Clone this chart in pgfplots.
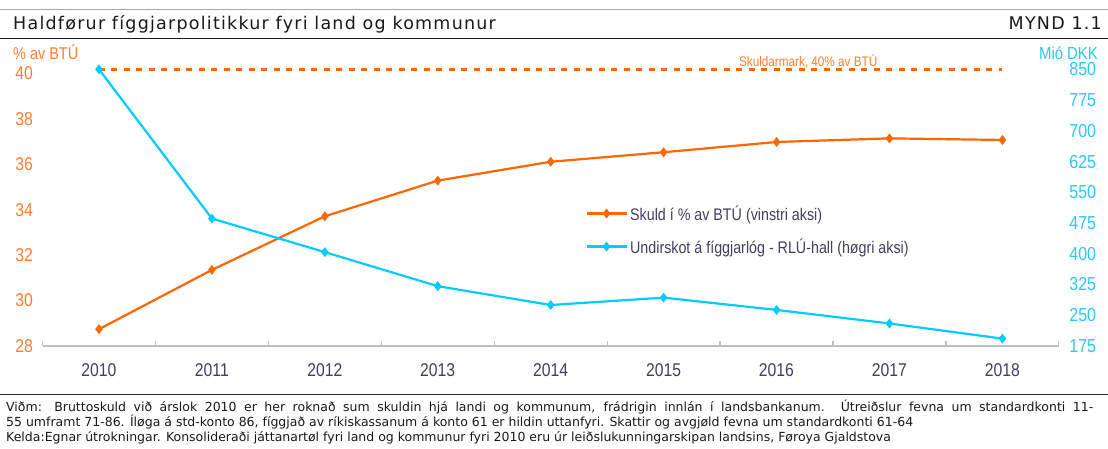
\documentclass[border=0pt]{standalone}
\usepackage{pgfplots}
\pgfplotsset{compat=1.18}
\usepackage{fontspec}
\setmainfont{Liberation Sans}
\newfontfamily\narrow[FakeStretch=0.85]{Liberation Sans}
\newfontfamily\verd{DejaVu Sans}
\newfontfamily\verdT[LetterSpace=7]{DejaVu Sans}
\definecolor{cOr}{RGB}{255,102,0}
\definecolor{cCy}{RGB}{0,204,255}
\definecolor{cOrT}{RGB}{255,125,45}
\definecolor{cCyT}{RGB}{40,200,255}
\definecolor{cTx}{RGB}{64,64,92}
\definecolor{cAx}{RGB}{191,191,191}
\begin{document}
\begin{tikzpicture}
\path[use as bounding box] (0pt,0pt) rectangle (1108pt,448pt);
% header rules and title
\draw[gray!70, line width=1.2pt] (0pt,438.5pt) -- (1108pt,438.5pt);
\draw[black!90, line width=1.6pt] (0pt,409.5pt) -- (1108pt,409.5pt);
\node[anchor=base west, inner sep=0pt, text=black!90] at (13pt,418.7pt) {\verdT\fontsize{17.5}{18}\selectfont Haldførur fíggjarpolitikkur fyri land og kommunur};
\node[anchor=base east, inner sep=0pt, text=black!90] at (1102pt,418.7pt) {\verdT\fontsize{17.5}{18}\selectfont MYND 1.1};
% axis headers
\node[anchor=base west, inner sep=0pt, text=cOrT] at (13pt,388.7pt) {\narrow\fontsize{17}{18}\selectfont \% av BTÚ};
\node[anchor=base east, inner sep=0pt, text=cCyT] at (1098pt,388.7pt) {\narrow\fontsize{17.5}{18}\selectfont Mió DKK};
% footnote
\draw[black!85, line width=1.2pt] (0pt,53.5pt) -- (1108pt,53.5pt);
\node[anchor=base west, inner sep=0pt, text=black!90] at (6pt,37pt) {\verd\fontsize{12.5}{14}\selectfont\makebox[1087pt][s]{Viðm: Bruttoskuld við árslok 2010 er her roknað sum skuldin hjá landi og kommunum, frádrigin innlán í landsbankanum. Útreiðslur fevna um standardkonti 11-}};
\node[anchor=base west, inner sep=0pt, text=black!90] at (6pt,22pt) {\verd\fontsize{12.5}{14}\selectfont 55 umframt 71-86. Íløga á std-konto 86, fíggjað av ríkiskassanum á konto 61 er hildin uttanfyri. Skattir og avgjøld fevna um standardkonti 61-64};
\node[anchor=base west, inner sep=0pt, text=black!90] at (6pt,7pt) {\verd\fontsize{12.5}{14}\selectfont Kelda:Egnar útrokningar. Konsolideraði játtanartøl fyri land og kommunur fyri 2010 eru úr leiðslukunningarskipan landsins, Føroya Gjaldstova};

% left axis
\begin{axis}[
  at={(42.5pt,102pt)}, anchor=south west,
  scale only axis, width=1016.5pt, height=276.7pt,
  xmin=2009.5, xmax=2018.5,
  ymin=28, ymax=40.18,
  axis x line*=bottom, axis y line*=left,
  x axis line style={-, draw=cAx, line width=1.6pt},
  y axis line style={draw=none},
  xtick={2010,...,2018},
  minor xtick={2009.5,2010.5,...,2018.5},
  major x tick style={draw=none},
  minor x tick style={draw=cAx, line width=1.2pt},
  minor tick length=5pt, tick align=inside,
  ytick={28,30,...,40},
  major y tick style={draw=none},
  major tick length=0pt,
  /pgf/number format/1000 sep={},
  /pgf/number format/assume math mode=true,
  xticklabel style={font=\narrow\fontsize{18.5}{20}\selectfont, text=cTx, yshift=-14pt},
  yticklabel style={font=\narrow\fontsize{18.6}{20}\selectfont, text=cOrT, xshift=-6pt},
  clip=false,
]
\addplot[cOr, line width=2.2pt, mark=diamond*, mark size=3.2pt] coordinates {
 (2010,28.74) (2011,31.35) (2012,33.71) (2013,35.28) (2014,36.11)
 (2015,36.53) (2016,36.98) (2017,37.14) (2018,37.07)};
\end{axis}

% right axis
\begin{axis}[
  at={(42.5pt,102pt)}, anchor=south west,
  scale only axis, width=1016.5pt, height=276.7pt,
  xmin=2009.5, xmax=2018.5,
  ymin=175, ymax=850,
  axis x line=none, axis y line*=right,
  y axis line style={draw=none},
  ytick={175,250,...,850},
  major tick length=0pt,
  /pgf/number format/assume math mode=true,
  yticklabel style={font=\narrow\fontsize{18.8}{20}\selectfont, text=cCyT, xshift=7pt},
  clip=false,
  legend cell align=left,
  legend style={at={(0.534,0.419)}, anchor=west, draw=none, fill=none,
    inner sep=0pt, row sep=12pt,
    font=\narrow\fontsize{16.8}{18}\selectfont, text=cTx,
    nodes={inner sep=2.5pt}},
  legend image code/.code={\draw[mark repeat=2, mark phase=2, #1] plot coordinates {(0pt,0pt) (20pt,0pt) (40pt,0pt)};},
]
\addlegendimage{cOr, line width=2.2pt, mark=diamond*, mark size=3.2pt}
\addlegendentry{Skuld í \% av BTÚ (vinstri aksi)}
\addplot[cCy, line width=2.2pt, mark=diamond*, mark size=3.2pt] coordinates {
 (2010,850) (2011,486) (2012,404) (2013,321) (2014,275)
 (2015,293) (2016,263) (2017,230) (2018,193)};
\addlegendentry{Undirskot á fíggjarlóg - RLÚ-hall (høgri aksi)}
\addplot[cOr, line width=3.5pt, dash pattern=on 6pt off 6.5pt, forget plot] coordinates {(2010,850) (2018,850)};
\node[anchor=base, inner sep=0pt, text=cOrT, font=\narrow\fontsize{13.8}{15}\selectfont] at (axis cs:2016.28,850) [yshift=3pt] {Skuldarmark, 40\% av BTÚ};
\end{axis}
\end{tikzpicture}
\end{document}
